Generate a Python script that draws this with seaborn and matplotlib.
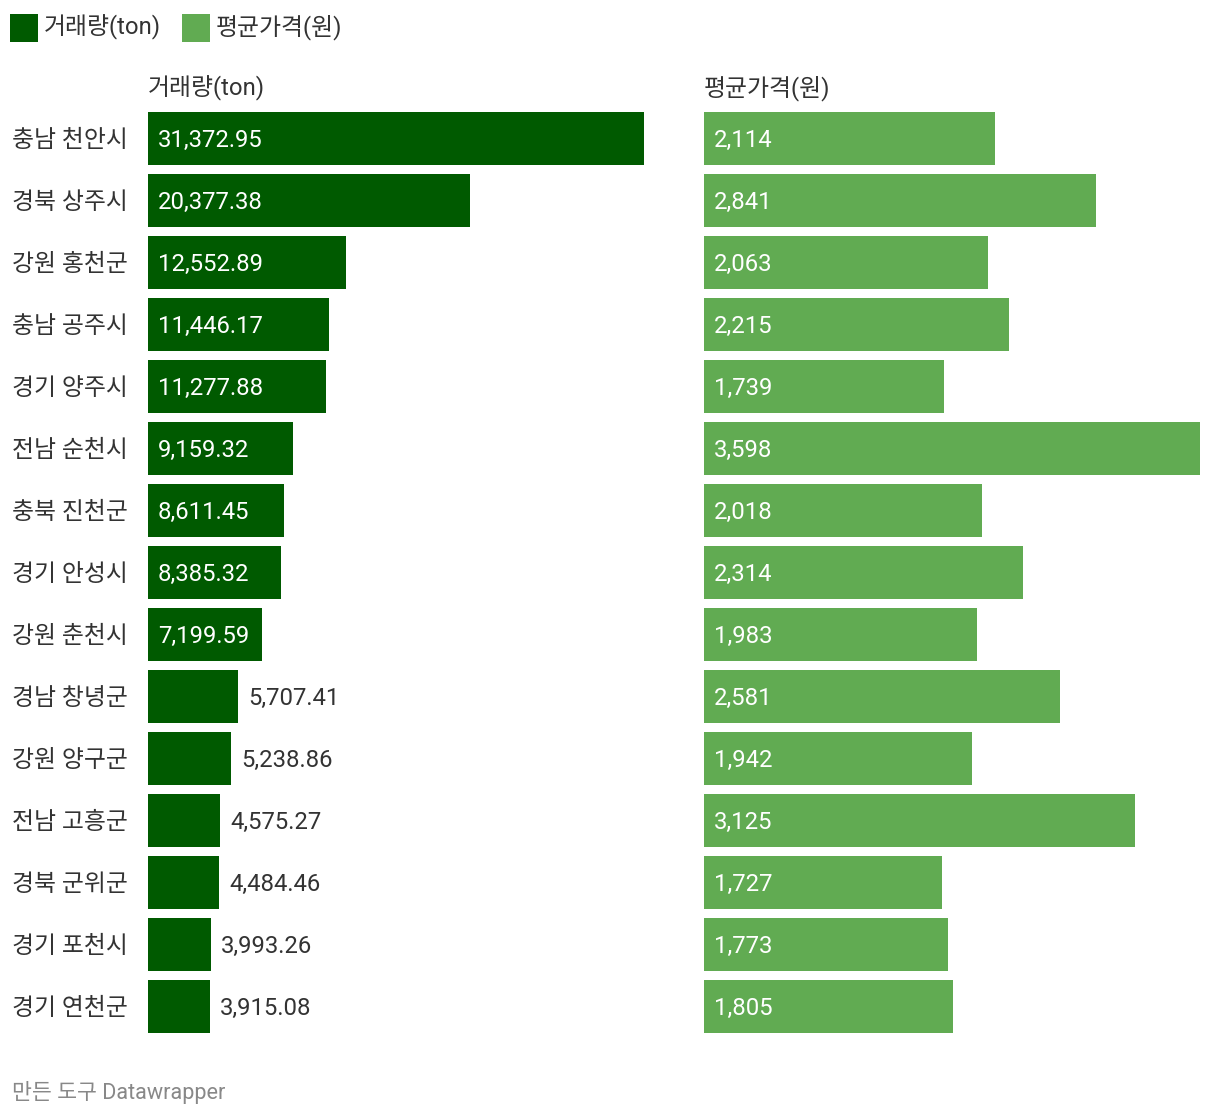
import matplotlib
matplotlib.use("Agg")
import matplotlib.pyplot as plt
import matplotlib.transforms as mtransforms
import seaborn as sns
import pandas as pd

sns.set_theme(style="white")
plt.rcParams['font.family'] = ['Roboto', 'Noto Sans CJK KR', 'DejaVu Sans']

regions = ["충남 천안시", "경북 상주시", "강원 홍천군", "충남 공주시", "경기 양주시",
           "전남 순천시", "충북 진천군", "경기 안성시", "강원 춘천시", "경남 창녕군",
           "강원 양구군", "전남 고흥군", "경북 군위군", "경기 포천시", "경기 연천군"]
volume = [31372.95, 20377.38, 12552.89, 11446.17, 11277.88,
          9159.32, 8611.45, 8385.32, 7199.59, 5707.41,
          5238.86, 4575.27, 4484.46, 3993.26, 3915.08]
price = [2114, 2841, 2063, 2215, 1739, 3598, 2018, 2314, 1983, 2581,
         1942, 3125, 1727, 1773, 1805]
series_names = ["거래량(ton)", "평균가격(원)"]
vol_labels = [f"{v:,.2f}" for v in volume]
price_labels = [f"{v:,}" for v in price]

DARK = "#005a00"
LIGHT = "#61ab52"
TXT = "#333333"
W, H = 1220, 1118
fig = plt.figure(figsize=(W / 100, H / 100), dpi=100)

df = pd.DataFrame({"region": regions, "volume": volume, "price": price})

top_px, bot_px = 107.5, 1037.5
axb = 1 - bot_px / H
axh = (bot_px - top_px) / H
ax1 = fig.add_axes([148 / W, axb, 496 / W, axh])
ax2 = fig.add_axes([704 / W, axb, 496 / W, axh])

FS = 17.2
DY = -1.5  # points, nudge text down slightly
renderer = fig.canvas.get_renderer()

for ax, col, color, labels, name, x0 in [(ax1, "volume", DARK, vol_labels, series_names[0], 148),
                                          (ax2, "price", LIGHT, price_labels, series_names[1], 704)]:
    sns.barplot(data=df, x=col, y="region", ax=ax, color=color, width=0.855,
                orient="h", saturation=1, linewidth=0)
    vmax = df[col].max()
    ax.set_xlim(0, vmax)
    ax.set_ylim(len(regions) - 0.5, -0.5)
    ax.set_axis_off()
    ax.set_xlabel("")
    ax.set_ylabel("")
    ax_px = ax.get_window_extent().width
    off = 10 / ax_px * vmax
    ttrans = mtransforms.offset_copy(ax.transData, fig=fig, x=0, y=DY, units="points")
    for i, (v, lab) in enumerate(zip(df[col], labels)):
        t = ax.text(off, i, lab, color="white", fontsize=FS, va="center", ha="left",
                    transform=ttrans)
        tw = t.get_window_extent(renderer).width
        bar_px = v / vmax * ax_px
        if tw + 20 > bar_px:
            t.set_position((v + off, i))
            t.set_color(TXT)
    fig.text(x0 / W, 1 - 88 / H, name, fontsize=FS, color=TXT, ha="left", va="center")

trans = mtransforms.blended_transform_factory(fig.transFigure, ax1.transData)
trans = mtransforms.offset_copy(trans, fig=fig, x=0, y=DY, units="points")
for i, r in enumerate(regions):
    ax1.text(12 / W, i, r, transform=trans, fontsize=FS, color=TXT,
             ha="left", va="center")

# legend
for x0, color, name in [(10, DARK, series_names[0]), (182, LIGHT, series_names[1])]:
    fig.patches.append(plt.Rectangle((x0 / W, 1 - 42 / H), 28 / W, 28 / H,
                                     transform=fig.transFigure, color=color, lw=0))
    fig.text((x0 + 34) / W, 1 - 27 / H, name, fontsize=FS, color=TXT,
             ha="left", va="center")

fig.text(12 / W, 1 - 1093 / H, "만든 도구 Datawrapper", fontsize=15.6, color="#888888",
         ha="left", va="center")

fig.savefig("out.png", dpi=100, facecolor="white")
